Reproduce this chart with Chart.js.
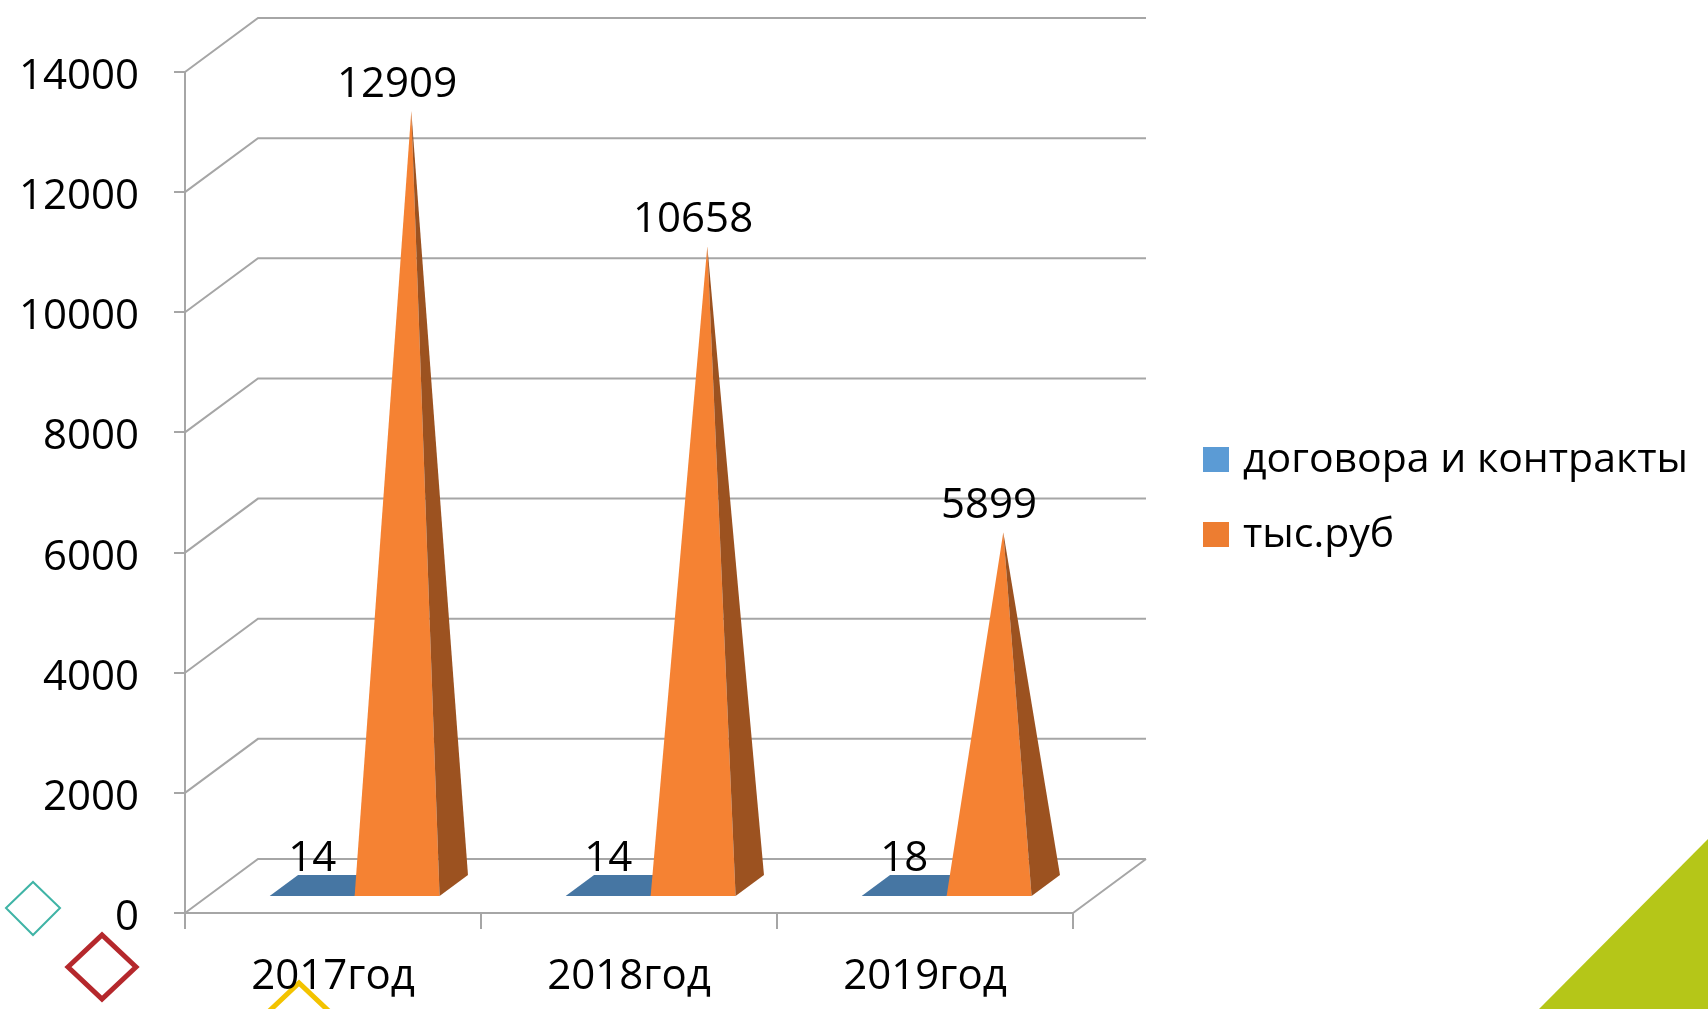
<!DOCTYPE html>
<html>
<head>
<meta charset="utf-8">
<script src="https://cdn.jsdelivr.net/npm/chart.js@4.4.0/dist/chart.umd.min.js"></script>
<style>
  html, body { margin: 0; padding: 0; background: #fff; }
  #wrap { position: relative; width: 1708px; height: 1009px; overflow: hidden; font-family: "Open Sans", sans-serif; }
  #deco { position: absolute; left: 0; top: 0; }
  #grafico { position: absolute; left: 0; top: 0; }
  #leyenda { position: absolute; left: 1203px; top: 422px; }
  .item { display: flex; align-items: center; height: 75px; font-size: 41px; color: #000; white-space: nowrap; }
  .caja { width: 26px; height: 25px; margin-right: 14px; }
  .item span.txt { position: relative; top: -4px; }
</style>
</head>
<body>
<div id="wrap">
  <svg id="deco" width="1708" height="1009">
    <polygon points="1539,1009 1708,839 1708,1009" fill="#b5c618"/>
    <polygon points="6,908 33,882 60,908 33,935" fill="none" stroke="#3fb4a6" stroke-width="2"/>
    <polygon points="68,967 102,935 136,967 102,999" fill="none" stroke="#b5282c" stroke-width="5"/>
    <polygon points="265,1015 299,983 333,1015 299,1047" fill="none" stroke="#f3c300" stroke-width="5"/>
  </svg>
  <canvas id="grafico" width="1708" height="1009"></canvas>
  <div id="leyenda"></div>
</div>
<script>
// datos del grafico
const categorias = ['2017год', '2018год', '2019год'];
const contratos = [14, 14, 18];
const milesRub = [12909, 10658, 5899];
const nombresSeries = ['договора и контракты', 'тыс.руб'];
const yMax = 14000;
const yPaso = 2000;

const coloresLeyenda = ['#5b9bd5', '#ed7d31'];
const coloresFrente = ['#5b8fc4', '#f58233'];
const coloresLado = ['#3e6691', '#9c5220'];
const coloresPlano = ['#4676a3', '#f58233'];

// profundidad 3D (en pixeles) y posicion de las piramides dentro del piso
const prof = { x: 73, y: -54 };
const dFrente = 16 / 54;
const dFondo = 37 / 54;
const gris = '#a6a6a6';

function proyectar(x, y, d) {
    return [x + prof.x * d, y + prof.y * d];
}

const paredes = {
    id: 'paredes',
    beforeDatasetsDraw(chart) {
        const ctx = chart.ctx;
        const { left, right, bottom } = chart.chartArea;
        const ys = chart.scales.y;
        ctx.save();
        ctx.strokeStyle = gris;
        ctx.lineWidth = 2;
        ctx.beginPath();
        ys.ticks.forEach(t => {
            const y = ys.getPixelForValue(t.value);
            ctx.moveTo(left, y);
            ctx.lineTo(left + prof.x, y + prof.y);
            ctx.lineTo(right + prof.x, y + prof.y);
        });
        ctx.moveTo(right, bottom);
        ctx.lineTo(right + prof.x, bottom + prof.y);
        ctx.stroke();
        ctx.restore();
    },
    beforeDatasetDraw() {
        return false; // las barras se dibujan como piramides
    },
    afterDatasetsDraw(chart) {
        const ctx = chart.ctx;
        const n = chart.data.labels.length;
        ctx.save();
        for (let i = 0; i < n; i++) {
            chart.data.datasets.forEach((ds, di) => {
                const el = chart.getDatasetMeta(di).data[i];
                const { x, y, base, width } = el.getProps(['x', 'y', 'base', 'width'], true);
                const x0 = x - width / 2, x1 = x + width / 2;
                const FL = proyectar(x0, base, dFrente);
                const FR = proyectar(x1, base, dFrente);
                const BR = proyectar(x1, base, dFondo);
                const BL = proyectar(x0, base, dFondo);
                const punta = proyectar(x, y, (dFrente + dFondo) / 2);
                if (base - y < 4) {
                    ctx.fillStyle = coloresPlano[di];
                    ctx.beginPath();
                    ctx.moveTo(...FL); ctx.lineTo(...FR); ctx.lineTo(...BR); ctx.lineTo(...BL);
                    ctx.closePath();
                    ctx.fill();
                } else {
                    ctx.fillStyle = coloresFrente[di];
                    ctx.beginPath();
                    ctx.moveTo(...FL); ctx.lineTo(...FR); ctx.lineTo(...punta);
                    ctx.closePath();
                    ctx.fill();
                    ctx.fillStyle = coloresLado[di];
                    ctx.beginPath();
                    ctx.moveTo(...FR); ctx.lineTo(...BR); ctx.lineTo(...punta);
                    ctx.closePath();
                    ctx.fill();
                }
            });
        }
        // etiquetas de valores
        ctx.fillStyle = '#000';
        ctx.font = '42px "Open Sans"';
        ctx.textAlign = 'center';
        ctx.textBaseline = 'alphabetic';
        chart.data.datasets.forEach((ds, di) => {
            chart.getDatasetMeta(di).data.forEach((el, i) => {
                const p = proyectar(el.x, el.y, dFrente);
                ctx.fillText(String(ds.data[i]), p[0], p[1] - 25);
            });
        });
        ctx.restore();
    }
};

const ctx = document.getElementById('grafico').getContext('2d');
const grafico = new Chart(ctx, {
    type: 'bar',
    data: {
        labels: categorias,
        datasets: [
            { label: nombresSeries[0], data: contratos, backgroundColor: coloresLeyenda[0] },
            { label: nombresSeries[1], data: milesRub, backgroundColor: coloresLeyenda[1] }
        ]
    },
    options: {
        responsive: false,
        animation: false,
        devicePixelRatio: 1,
        datasets: { bar: { categoryPercentage: 0.574, barPercentage: 1 } },
        layout: { padding: { left: 0, right: 635, top: 72, bottom: 0 } },
        plugins: { legend: { display: false }, tooltip: { enabled: false } },
        scales: {
            x: {
                grid: { drawOnChartArea: false, drawTicks: true, tickLength: 16, color: gris, lineWidth: 2, offset: true },
                border: { display: true, color: gris, width: 2 },
                ticks: { color: '#000', font: { family: 'Open Sans', size: 42 }, padding: 23, maxRotation: 0 },
                afterFit(s) { s.height = 96; }
            },
            y: {
                min: 0,
                max: yMax,
                ticks: {
                    stepSize: yPaso, color: '#000', font: { family: 'Open Sans', size: 42 }, padding: 35, labelOffset: 5,
                    callback: v => String(v)
                },
                grid: { drawOnChartArea: false, drawTicks: true, tickLength: 11, color: gris, lineWidth: 2 },
                border: { display: true, color: gris, width: 2 },
                afterFit(s) { s.width = 185; }
            }
        }
    },
    plugins: [paredes]
});

// leyenda en HTML
const leyenda = document.getElementById('leyenda');
grafico.data.datasets.forEach(ds => {
    const fila = document.createElement('div');
    fila.className = 'item';
    fila.innerHTML = `<div class="caja" style="background:${ds.backgroundColor}"></div><span class="txt">${ds.label}</span>`;
    leyenda.appendChild(fila);
});
</script>
</body>
</html>
